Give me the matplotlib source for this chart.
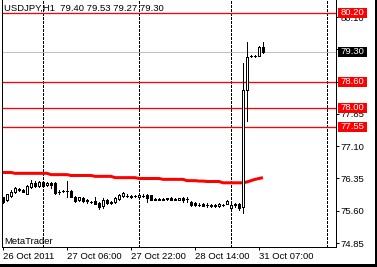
"""USDJPY H1 MetaTrader-style chart: BOJ intervention, 26-31 Oct 2011."""
import matplotlib

matplotlib.use("Agg")
import matplotlib.pyplot as plt
import matplotlib.transforms as mtransforms
from matplotlib.patches import Rectangle

plt.rcParams["font.family"] = ["Liberation Sans", "DejaVu Sans"]

# hourly bars, index 0 = 26 Oct 14:00
OPEN = [75.92, 75.85, 75.94, 76.04, 76.10, 76.08, 75.99, 76.15, 76.24, 76.17,
        76.26, 76.20, 76.24, 76.24, 76.03, 76.06, 76.06, 76.06, 75.92, 75.85,
        75.90, 75.84, 75.81, 75.83, 75.78, 75.71, 75.85, 75.81, 75.80, 75.88,
        75.95, 75.94, 75.93, 75.94, 75.91, 75.95, 75.96, 75.96, 75.88, 75.86,
        75.86, 75.87, 75.89, 75.86, 75.86, 75.89, 75.87, 75.80, 75.78, 75.74,
        75.75, 75.73, 75.72, 75.74, 75.71, 75.73, 75.76, 75.66, 75.74, 75.76,
        75.69, 78.41, 79.19, 79.20, 79.21, 79.40]
HIGH = [75.93, 75.99, 76.08, 76.15, 76.12, 76.10, 76.19, 76.31, 76.30, 76.29,
        76.28, 76.27, 76.27, 76.26, 76.09, 76.08, 76.29, 76.08, 75.94, 75.93,
        75.92, 75.87, 75.83, 75.92, 75.80, 75.90, 75.88, 75.83, 75.91, 75.99,
        76.03, 75.98, 75.96, 75.97, 75.98, 75.98, 75.98, 75.97, 75.90, 75.89,
        75.89, 75.90, 75.91, 75.89, 75.90, 75.91, 75.93, 75.82, 75.80, 75.77,
        75.77, 75.77, 75.75, 75.76, 75.77, 75.76, 75.85, 75.75, 75.78, 75.78,
        79.04, 79.52, 79.22, 79.22, 79.42, 79.53]
LOW = [75.79, 75.83, 75.92, 76.02, 76.06, 76.03, 75.98, 76.14, 76.16, 76.16,
       76.17, 76.18, 76.14, 75.99, 75.99, 76.03, 75.92, 75.91, 75.81, 75.83,
       75.81, 75.78, 75.78, 75.75, 75.64, 75.66, 75.76, 75.76, 75.79, 75.86,
       75.93, 75.91, 75.90, 75.91, 75.89, 75.92, 75.80, 75.84, 75.84, 75.84,
       75.84, 75.85, 75.84, 75.84, 75.85, 75.81, 75.81, 75.72, 75.72, 75.70,
       75.70, 75.68, 75.69, 75.68, 75.69, 75.70, 75.75, 75.65, 75.68, 75.61,
       75.54, 77.69, 79.17, 79.18, 79.19, 79.27]
CLOSE = [75.80, 75.99, 76.04, 76.13, 76.09, 76.04, 76.18, 76.24, 76.17, 76.27,
         76.18, 76.24, 76.19, 76.01, 76.04, 76.05, 76.05, 75.92, 75.83, 75.92,
         75.83, 75.82, 75.80, 75.76, 75.69, 75.85, 75.78, 75.78, 75.89, 75.97,
         76.01, 75.95, 75.94, 75.95, 75.96, 75.94, 75.89, 75.85, 75.85, 75.87,
         75.88, 75.89, 75.85, 75.87, 75.89, 75.85, 75.88, 75.74, 75.74, 75.73,
         75.72, 75.74, 75.73, 75.70, 75.75, 75.74, 75.82, 75.73, 75.75, 75.67,
         78.41, 79.18, 79.20, 79.21, 79.40, 79.30]
MA = [76.49, 76.49, 76.49, 76.47, 76.47, 76.47, 76.47, 76.47, 76.47, 76.47,
      76.47, 76.47, 76.44, 76.44, 76.44, 76.44, 76.44, 76.42, 76.42, 76.42,
      76.42, 76.42, 76.42, 76.40, 76.40, 76.40, 76.40, 76.40, 76.37, 76.37,
      76.37, 76.37, 76.37, 76.37, 76.35, 76.35, 76.35, 76.35, 76.35, 76.35,
      76.33, 76.33, 76.33, 76.33, 76.33, 76.33, 76.30, 76.30, 76.30, 76.29,
      76.29, 76.28, 76.28, 76.28, 76.28, 76.25, 76.25, 76.25, 76.25, 76.25,
      76.25, 76.27, 76.30, 76.33, 76.35, 76.37]

DAY_SEPARATORS = [10, 34, 57, 81]          # bar index of each new day
XTICK_BARS = [0, 16, 32, 48, 64]
XTICK_LABELS = ["26 Oct 2011", "27 Oct 06:00", "27 Oct 22:00", "28 Oct 14:00", "31 Oct 07:00"]
YTICKS = [74.85, 75.60, 76.35, 77.10, 77.85, 78.60, 79.35, 80.10]
RED_LEVELS = [80.20, 78.60, 78.00, 77.55]
BID = 79.30
HEADER = "USDJPY,H1  79.40 79.53 79.27 79.30"

W, H = 377, 267
PX = 72 / 100  # one pixel in points

fig = plt.figure(figsize=(W / 100, H / 100), dpi=100)
fig.patch.set_facecolor("white")
ax = fig.add_axes([2 / W, 20.3 / H, 333.5 / W, 246.7 / H])
ax.set_xlim(-0.25, 83.125)
ax.set_ylim(74.764, 80.501)

ax.spines["top"].set_visible(False)
for sp in ("left", "right", "bottom"):
    ax.spines[sp].set_linewidth(PX)

# levels
for lvl in RED_LEVELS:
    ax.axhline(lvl, color="#ff0000", linewidth=1.3 * PX, zorder=2)
ax.axhline(BID, color="#c0c0c0", linewidth=PX, zorder=1.8)
for d in DAY_SEPARATORS:
    ax.axvline(d, color="black", linewidth=PX, linestyle=(0, (4 * PX, 2 * PX)),
               zorder=1.5, antialiased=False)

# moving average
ax.plot(range(len(MA)), MA, color="#ff0000", linewidth=3 * PX, zorder=2.5,
        solid_capstyle="butt")

# candles
idx = list(range(len(OPEN)))
ax.vlines(idx, LOW, HIGH, color="black", linewidth=PX, zorder=3, antialiased=False)
bottoms = [min(o, c) for o, c in zip(OPEN, CLOSE)]
heights = [abs(c - o) for o, c in zip(OPEN, CLOSE)]
fills = ["white" if c > o else "black" for o, c in zip(OPEN, CLOSE)]
ax.bar(idx, heights, bottom=bottoms, width=0.55, color=fills, edgecolor="black",
       linewidth=PX, zorder=4, antialiased=False)

# axis ticks
ax.yaxis.tick_right()
ax.set_yticks(YTICKS)
ax.set_yticklabels([f"{v:.2f}" for v in YTICKS])
ax.tick_params(axis="y", length=3 * PX, width=PX, pad=1.5, labelsize=6.8)
ax.set_xticks(XTICK_BARS)
ax.set_xticklabels(XTICK_LABELS)
for lab in ax.get_xticklabels():
    lab.set_horizontalalignment("left")
ax.tick_params(axis="x", length=3 * PX, width=PX, pad=1.5, labelsize=6.8)

# price boxes on the right scale
tr = mtransforms.blended_transform_factory(fig.transFigure, ax.transData)
box_h = 10 / 43


def price_box(val, face):
    ax.add_patch(Rectangle((338 / W, val - box_h / 2), 29 / W, box_h, transform=tr,
                           facecolor=face, edgecolor="none", clip_on=False, zorder=6))
    ax.text(352.5 / W, val, f"{val:.2f}", transform=tr, ha="center", va="center",
            color="white", fontsize=6.8, clip_on=False, zorder=7)


for lvl in RED_LEVELS:
    price_box(lvl, "#ff0000")
price_box(BID, "black")

fig.text(4 / W, 1 - 8.5 / H, HEADER, ha="left", va="center", fontsize=6.8, color="black")
fig.text(4 / W, 1 - 241 / H, "MetaTrader", ha="left", va="center", fontsize=6.8, color="black")

# window shadow on right and bottom
fig.add_artist(Rectangle((375 / W, 0), 2 / W, 1, transform=fig.transFigure,
                         facecolor="black", edgecolor="none"))
fig.add_artist(Rectangle((0, 0), 1, 3 / H, transform=fig.transFigure,
                         facecolor="black", edgecolor="none"))

fig.savefig("out.png", dpi=100)
